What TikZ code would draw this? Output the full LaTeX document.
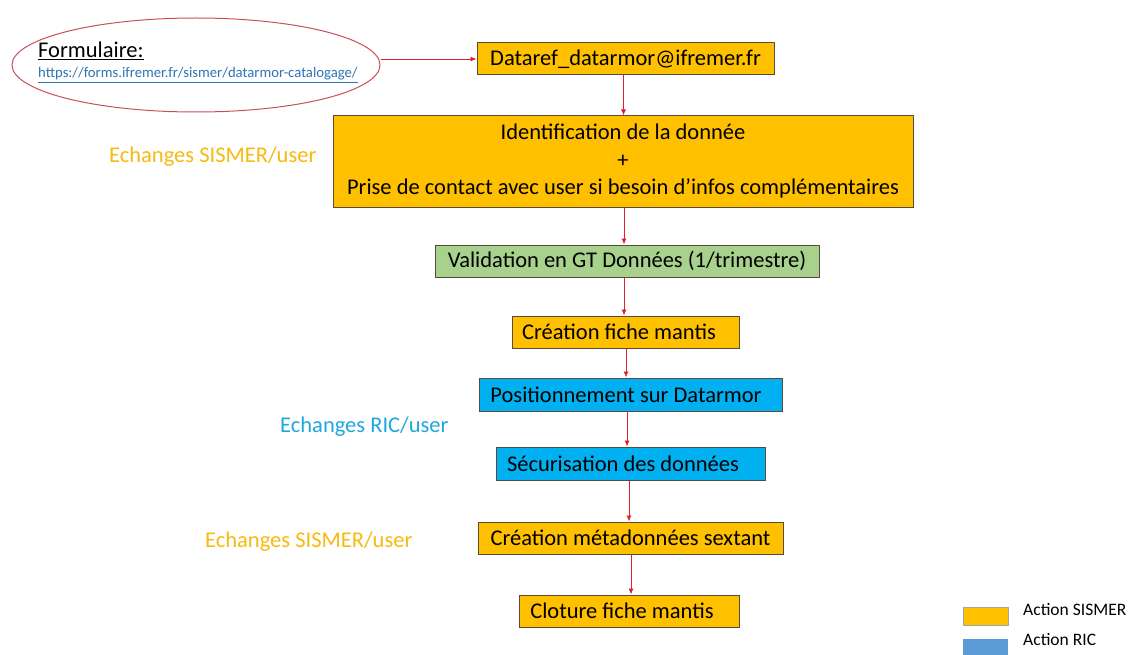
\documentclass[tikz,border=0pt]{standalone}
\usepackage{fontspec}
\setmainfont{Carlito}
\usetikzlibrary{arrows.meta,shapes.geometric}
\definecolor{sorange}{HTML}{FFC000}
\definecolor{sblue}{HTML}{00B0F0}
\definecolor{sgreen}{HTML}{A9D18E}
\definecolor{legblue}{HTML}{5B9BD5}
\definecolor{boxborder}{HTML}{5A4A3A}
\definecolor{arrowred}{HTML}{E0202A}
\definecolor{ellred}{HTML}{C9505A}
\definecolor{urlblue}{HTML}{2E75B6}
\definecolor{ricblue}{HTML}{1FA8DE}
\definecolor{sismertxt}{HTML}{F7BA10}
\begin{document}
\begin{tikzpicture}[x=1pt,y=-1pt,
  box/.style={draw=boxborder, line width=1pt, inner sep=0pt, anchor=center,
    font=\fontsize{22.5}{27.5}\selectfont, text=black},
  obox/.style={box, fill=sorange},
  bbox/.style={box, fill=sblue},
  gbox/.style={box, fill=sgreen},
  flow/.style={draw=arrowred, line width=0.9pt, -{Latex[length=6pt,width=5pt]}},
  side/.style={anchor=base west, inner sep=0pt, font=\fontsize{22.5}{27}\selectfont},
  legsq/.style={draw=gray!70, line width=0.6pt, minimum width=45pt, minimum height=18pt, inner sep=0pt, anchor=north west},
  legtxt/.style={anchor=base west, inner sep=0pt, font=\fontsize{17.5}{20}\selectfont},
]
\useasboundingbox (0,0) rectangle (1131,655);
\fill[white] (0,0) rectangle (1131,655);

% form ellipse
\node[ellipse, draw=ellred, line width=1pt, minimum width=368pt, minimum height=94pt, inner sep=0pt] (form) at (196,65) {};
\node[anchor=base west, inner sep=0pt, font=\fontsize{22.5}{27}\selectfont] (formtitle) at (38,58) {\underline{Formulaire:}};
\node[anchor=base west, inner sep=0pt, font=\fontsize{14.7}{18}\selectfont, text=urlblue] (formurl) at (38,78) {\underline{https://forms.ifremer.fr/sismer/datarmor-catalogage/}};

% boxes
\node[obox, minimum width=297pt, minimum height=32pt] (dataref) at (625.5,59) {Dataref\_datarmor@ifremer.fr};
\node[obox, minimum width=580pt, minimum height=91pt, align=center] (ident) at (623,161.5) {Identification de la donnée\\+\\Prise de contact avec user si besoin d’infos complémentaires};
\node[gbox, minimum width=384pt, minimum height=32pt] (valid) at (627,261) {Validation en GT Données (1/trimestre)};
\node[obox, minimum width=227pt, minimum height=32pt] (fiche) at (625.5,332) {Création fiche mantis\kern13pt};
\node[bbox, minimum width=303pt, minimum height=33pt] (posit) at (630.5,394.5) {Positionnement sur Datarmor\kern9pt};
\node[bbox, minimum width=269pt, minimum height=33pt] (secur) at (630.5,463.5) {Sécurisation des données\kern15pt};
\node[obox, minimum width=305pt, minimum height=32pt] (meta) at (630.5,538) {Création métadonnées sextant};
\node[obox, minimum width=220pt, minimum height=32pt] (clot) at (629,611) {Cloture fiche mantis\kern14pt};

% connectors
\draw[flow] (form.east |- dataref.west) -- (dataref.west);
\draw[flow] ([xshift=-2pt]dataref.south) -- ([xshift=-2pt]dataref.south |- ident.north);
\draw[flow] ([xshift=1pt]ident.south) -- ([xshift=1pt]ident.south |- valid.north);
\draw[flow] ([xshift=-3pt]valid.south) -- ([xshift=-3pt]valid.south |- fiche.north);
\draw[flow] ([xshift=0.5pt]fiche.south) -- ([xshift=0.5pt]fiche.south |- posit.north);
\draw[flow] ([xshift=-3.5pt]posit.south) -- ([xshift=-3.5pt]posit.south |- secur.north);
\draw[flow] ([xshift=-1.5pt]secur.south) -- ([xshift=-1.5pt]secur.south |- meta.north);
\draw[flow] ([xshift=0.5pt]meta.south) -- ([xshift=0.5pt]meta.south |- clot.north);

% side labels
\node[side, text=sismertxt] (ech1) at (109,163) {Echanges SISMER/user};
\node[side, text=ricblue] (ech2) at (280,432) {Echanges RIC/user};
\node[side, text=sismertxt] (ech3) at (205,547) {Echanges SISMER/user};

% legend
\node[legsq, fill=sorange] (lego) at (963,607) {};
\node[legsq, fill=legblue, draw=none] (legb) at (963,639) {};
\node[legtxt] (legotxt) at (1023,615) {Action SISMER};
\node[legtxt] (legbtxt) at (1023,645) {Action RIC};
\end{tikzpicture}
\end{document}
